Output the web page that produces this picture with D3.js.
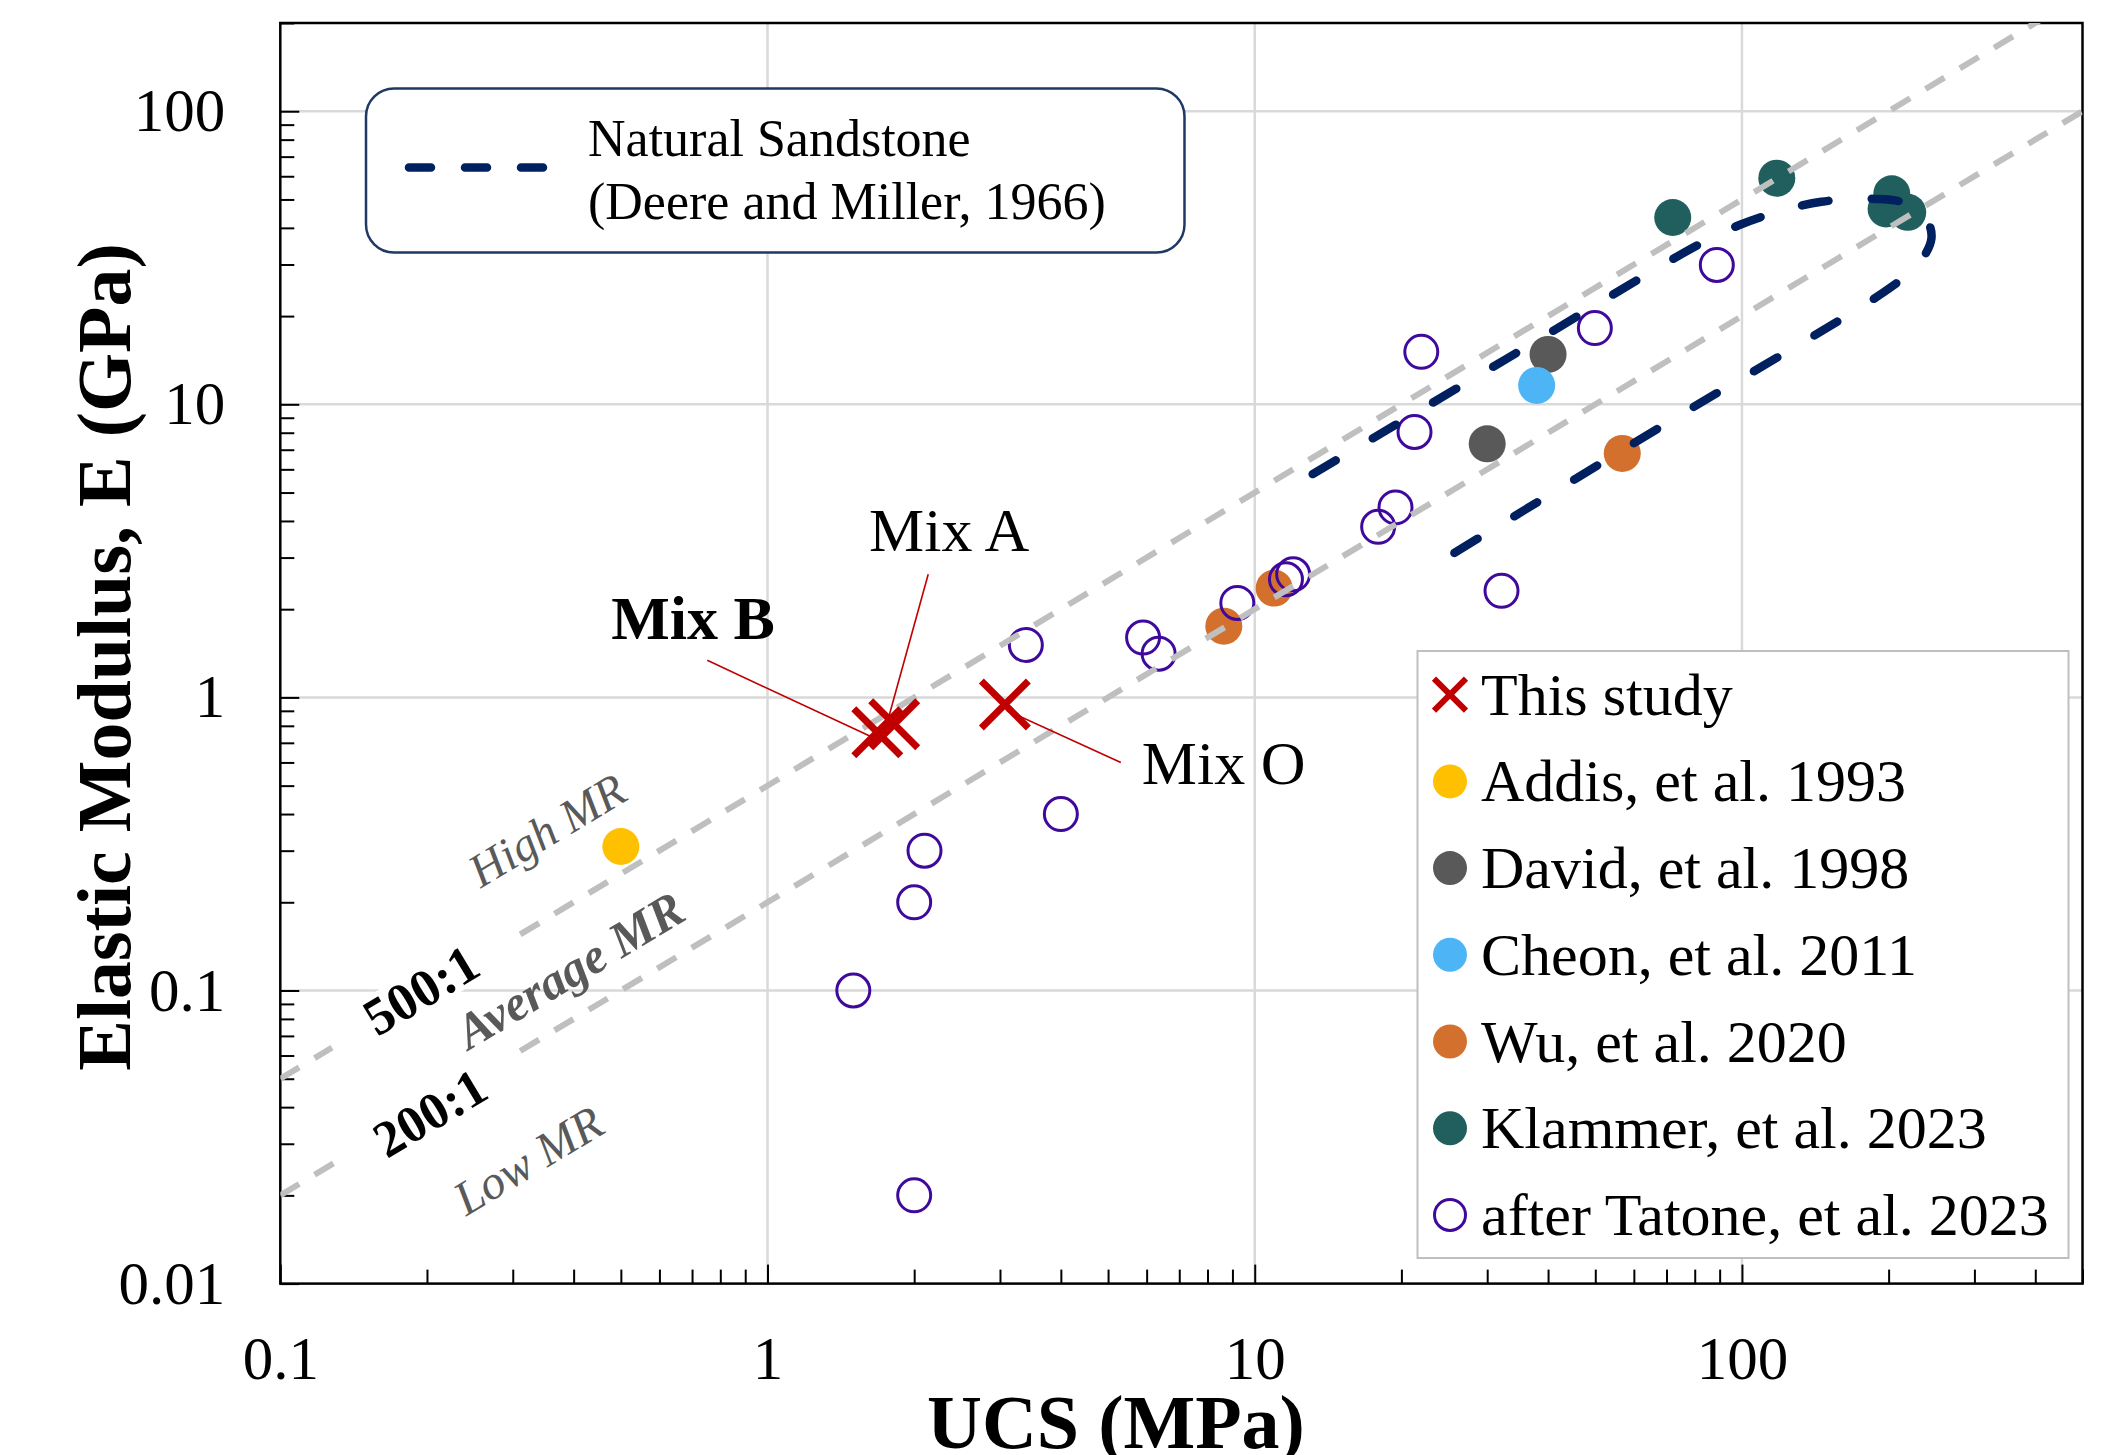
<!DOCTYPE html>
<html>
<head>
<meta charset="utf-8">
<script src="https://cdn.jsdelivr.net/npm/d3@7"></script>
<style>
  body { margin: 0; background: #fff; }
  text { font-family: "Liberation Serif", "Times New Roman", serif; }
</style>
</head>
<body>
<svg id="chart"></svg>
<script>
// axis ranges and ticks
const xDomain = [0.1, 500]
const yDomain = [0.01, 200]
const xTicks = [0.1, 1, 10, 100]
const xTickLabels = ['0.1', '1', '10', '100']
const yTicks = [0.01, 0.1, 1, 10, 100]
const yTickLabels = ['0.01', '0.1', '1', '10', '100']

// this study (UCS MPa, E GPa)
const mixNames = ['Mix B', 'Mix A', 'Mix O']
const mixUCS = [1.68, 1.82, 3.07]
const mixE = [0.76, 0.81, 0.946]

// literature data
const addisUCS = [0.5]
const addisE = [0.31]
const davidUCS = [40.0, 30.0]
const davidE = [14.8, 7.33]
const cheonUCS = [37.9]
const cheonE = [11.6]
const wuUCS = [8.64, 10.96, 56.8]
const wuE = [1.75, 2.36, 6.80]
const klammerUCS = [72.1, 117.9, 203, 197.6, 218.9]
const klammerE = [43.4, 59.1, 52.3, 46.4, 45.2]
const tatoneUCS = [1.5, 2.0, 2.0, 2.1, 4.0, 3.39, 5.9, 6.35, 9.21, 11.59, 11.99, 17.92, 19.45, 21.28, 21.97, 32.1, 49.9, 88.8]
const tatoneE = [0.1, 0.02, 0.2, 0.3, 0.4, 1.51, 1.6, 1.41, 2.1, 2.53, 2.63, 3.82, 4.45, 8.05, 15.1, 2.31, 18.2, 29.9]

// natural sandstone envelope (Deere and Miller, 1966)
const envUCS = [13.15, 32.8, 81.8, 98.8, 116.6, 145.6, 187, 218.6, 240.2, 244.8, 231.3, 203.6, 69.8, 24.3]
const envE = [5.78, 14.27, 35.2, 40.9, 45.0, 49.1, 50.2, 48.3, 42.2, 36.7, 30.4, 25.3, 8.59, 2.94]

// modulus ratio lines
const mrRatios = [500, 200]
const mrLabels = ['500:1', '200:1']

const legendNames = ['This study', 'Addis, et al. 1993', 'David, et al. 1998', 'Cheon, et al. 2011',
  'Wu, et al. 2020', 'Klammer, et al. 2023', 'after Tatone, et al. 2023']

const W = 2123, H = 1455
const pLeft = 280.3, pRight = 2082.5, pTop = 23, pBottom = 1283.6

const svg = d3.select('#chart').attr('width', W).attr('height', H)
svg.append('rect').attr('width', W).attr('height', H).attr('fill', '#fff')

const x = d3.scaleLog().domain(xDomain).range([pLeft, pRight])
const y = d3.scaleLog().domain(yDomain).range([pBottom, pTop])

svg.append('defs').append('clipPath').attr('id', 'plot')
  .append('rect').attr('x', pLeft).attr('y', pTop).attr('width', pRight - pLeft).attr('height', pBottom - pTop)

// gridlines (major only)
const grid = svg.append('g').attr('stroke', '#d9d9d9').attr('stroke-width', 2.5)
grid.selectAll('.gx').data(xTicks.slice(1)).enter().append('line')
  .attr('x1', d => x(d)).attr('x2', d => x(d)).attr('y1', pTop).attr('y2', pBottom)
grid.selectAll('.gy').data(yTicks.slice(1)).enter().append('line')
  .attr('y1', d => y(d)).attr('y2', d => y(d)).attr('x1', pLeft).attr('x2', pRight)

// minor ticks
const isMajor = v => Math.abs(Math.log10(v) - Math.round(Math.log10(v))) < 1e-6
const xMinor = x.ticks().filter(v => !isMajor(v))
const yMinor = y.ticks().filter(v => !isMajor(v))

let gxMinor = svg.append('g').attr('transform', `translate(0,${pBottom})`)
  .call(d3.axisBottom(x).tickValues(xMinor).tickSize(-14).tickFormat(''))
let gyMinor = svg.append('g').attr('transform', `translate(${pLeft},0)`)
  .call(d3.axisLeft(y).tickValues(yMinor).tickSize(-14).tickFormat(''))
gxMinor.select('.domain').remove()
gyMinor.select('.domain').remove()

let gx = svg.append('g').attr('transform', `translate(0,${pBottom})`)
  .call(d3.axisBottom(x).tickValues(xTicks).tickSize(-19).tickPadding(52)
    .tickFormat((d, i) => xTickLabels[i]))
let gy = svg.append('g').attr('transform', `translate(${pLeft},0)`)
  .call(d3.axisLeft(y).tickValues(yTicks).tickSize(-19).tickPadding(55)
    .tickFormat((d, i) => yTickLabels[i]))

svg.selectAll('.tick line').attr('stroke', '#000').attr('stroke-width', 2)
svg.selectAll('.domain').remove()
svg.selectAll('.tick text').attr('font-size', 61).attr('fill', '#000')
  .style('font-family', '"Liberation Serif", serif')

// plot frame
svg.append('rect').attr('x', pLeft).attr('y', pTop).attr('width', pRight - pLeft).attr('height', pBottom - pTop)
  .attr('fill', 'none').attr('stroke', '#000').attr('stroke-width', 2.5)

const plot = svg.append('g').attr('clip-path', 'url(#plot)')

// filled points
const filled = [
  [addisUCS, addisE, '#FFC000'],
  [davidUCS, davidE, '#595959'],
  [cheonUCS, cheonE, '#4DB5F6'],
  [wuUCS, wuE, '#D4702D'],
  [klammerUCS, klammerE, '#215F5F']
]
filled.forEach(([xs, ys, col]) => {
  plot.selectAll(null).data(xs).enter().append('circle')
    .attr('cx', d => x(d)).attr('cy', (d, i) => y(ys[i]))
    .attr('r', 18.5).attr('fill', col)
})

// tatone open circles
plot.selectAll('.tat').data(tatoneUCS).enter().append('circle')
  .attr('cx', d => x(d)).attr('cy', (d, i) => y(tatoneE[i]))
  .attr('r', 16.5).attr('fill', 'none').attr('stroke', '#3F0A9C').attr('stroke-width', 3)

// MR lines
const mrLine = d3.line().x(d => x(d[0])).y(d => y(d[1]))
mrRatios.forEach(r => {
  plot.append('path')
    .attr('d', mrLine(xDomain.map(u => [u, u * r / 1000])))
    .attr('fill', 'none').attr('stroke', '#BFBFBF').attr('stroke-width', 6)
    .attr('stroke-dasharray', '22,18')
})

// envelope
const envLine = d3.line().x(d => x(d[0])).y(d => y(d[1])).curve(d3.curveCatmullRom.alpha(0.5))
plot.append('path')
  .attr('d', envLine(envUCS.map((u, i) => [u, envE[i]])))
  .attr('fill', 'none').attr('stroke', '#002060').attr('stroke-width', 8.5)
  .attr('stroke-linecap', 'round').attr('stroke-dasharray', '27,43')

// this study markers
const xMark = s => `M${-s},${-s}L${s},${s}M${-s},${s}L${s},${-s}`
plot.selectAll('.mix').data(mixUCS).enter().append('path')
  .attr('transform', (d, i) => `translate(${x(d)},${y(mixE[i])})`)
  .attr('d', xMark(23.5)).attr('stroke', '#C00000').attr('stroke-width', 7).attr('fill', 'none')

// annotations for the mixes (pixel offsets from the marker)
const mixAnno = {
  'Mix B': { line: [-7, 4, -170, -72], text: [-266, -93], anchor: 'start', weight: 'bold' },
  'Mix A': { line: [-5, -9, 34, -150], text: [55, -173], anchor: 'middle', weight: 'normal' },
  'Mix O': { line: [2, 6, 116, 58], text: [137, 80], anchor: 'start', weight: 'normal' }
}
mixNames.forEach((n, i) => {
  const px = x(mixUCS[i]), py = y(mixE[i]), a = mixAnno[n]
  svg.append('line')
    .attr('x1', px + a.line[0]).attr('y1', py + a.line[1])
    .attr('x2', px + a.line[2]).attr('y2', py + a.line[3])
    .attr('stroke', '#C00000').attr('stroke-width', 1.6)
  svg.append('text').attr('x', px + a.text[0]).attr('y', py + a.text[1])
    .attr('text-anchor', a.anchor).attr('font-size', 62).attr('font-weight', a.weight)
    .text(n)
})

// MR labels
const ang = -Math.atan((y(1) - y(10)) / (x(10) - x(1))) * 180 / Math.PI
const mrText = [
  { t: 'High MR', cx: 547, cy: 830, size: 47, style: 'italic', weight: 'normal', fill: '#595959' },
  { t: mrLabels[0], cx: 421, cy: 990, size: 53, style: 'normal', weight: 'bold', fill: '#000', box: 212 },
  { t: 'Average MR', cx: 570, cy: 970, size: 50, style: 'italic', weight: 'bold', fill: '#595959' },
  { t: mrLabels[1], cx: 430, cy: 1113, size: 52, style: 'normal', weight: 'bold', fill: '#000', box: 200 },
  { t: 'Low MR', cx: 528, cy: 1160, size: 48, style: 'italic', weight: 'normal', fill: '#595959' }
]
mrText.forEach(m => {
  const g = svg.append('g').attr('transform', `translate(${m.cx},${m.cy}) rotate(${ang})`)
  if (m.box) {
    g.append('rect').attr('x', -m.box / 2).attr('y', -22).attr('width', m.box).attr('height', 44).attr('fill', '#fff')
  }
  g.append('text').attr('text-anchor', 'middle').attr('dominant-baseline', 'central')
    .attr('font-size', m.size).attr('font-style', m.style).attr('font-weight', m.weight)
    .attr('fill', m.fill).text(m.t)
})

// axis titles
svg.append('text').attr('x', 1116).attr('y', 1448).attr('text-anchor', 'middle')
  .attr('font-size', 76).attr('font-weight', 'bold').text('UCS (MPa)')
svg.append('text').attr('transform', 'translate(130,657) rotate(-90)').attr('text-anchor', 'middle')
  .attr('font-size', 76).attr('font-weight', 'bold').text('Elastic Modulus, E (GPa)')

// sandstone legend
svg.append('rect').attr('x', 366).attr('y', 88.5).attr('width', 818.5).attr('height', 164).attr('rx', 28)
  .attr('fill', '#fff').attr('stroke', '#1F3864').attr('stroke-width', 2.5)
svg.append('line').attr('x1', 409).attr('x2', 545).attr('y1', 167.5).attr('y2', 167.5)
  .attr('stroke', '#002060').attr('stroke-width', 8.5).attr('stroke-linecap', 'round')
  .attr('stroke-dasharray', '22,34')
svg.append('text').attr('x', 588).attr('y', 155.5).attr('font-size', 52).text('Natural Sandstone')
svg.append('text').attr('x', 588).attr('y', 218.5).attr('font-size', 52).text('(Deere and Miller, 1966)')

// series legend
svg.append('rect').attr('x', 1417.5).attr('y', 651).attr('width', 651).attr('height', 607)
  .attr('fill', '#fff').attr('stroke', '#BFBFBF').attr('stroke-width', 2)
const legColors = [null, '#FFC000', '#595959', '#4DB5F6', '#D4702D', '#215F5F', null]
legendNames.forEach((n, i) => {
  const cy = 694.7 + i * 86.7
  if (i === 0) {
    svg.append('path').attr('transform', `translate(1450,${cy})`).attr('d', xMark(16))
      .attr('stroke', '#C00000').attr('stroke-width', 6).attr('fill', 'none')
  } else if (i === 6) {
    svg.append('circle').attr('cx', 1450).attr('cy', cy).attr('r', 15.5)
      .attr('fill', 'none').attr('stroke', '#3F0A9C').attr('stroke-width', 3)
  } else {
    svg.append('circle').attr('cx', 1450).attr('cy', cy).attr('r', 17).attr('fill', legColors[i])
  }
  svg.append('text').attr('x', 1481).attr('y', cy + 20).attr('font-size', 60).text(n)
})
</script>
</body>
</html>
